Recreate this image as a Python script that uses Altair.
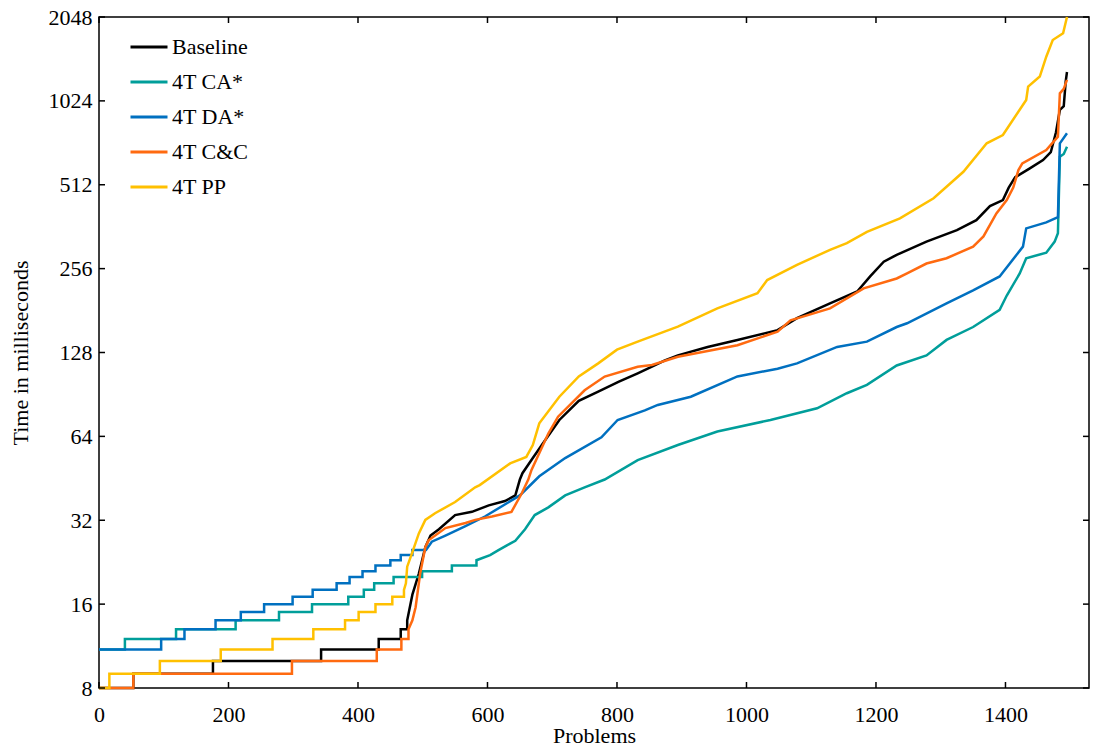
import altair as alt
import pandas as pd

series_names = ["Baseline", "4T CA*", "4T DA*", "4T C&C", "4T PP"]
series_colors = ["#000000", "#009E9A", "#0070C0", "#FF6A10", "#FFC000"]

base_x = [0, 53, 53, 176, 176, 343, 343, 432, 432, 466, 466, 476, 476, 484, 494, 504, 512, 525, 550, 576,
          602, 627, 643, 650, 654, 670, 689, 711, 741, 771, 803, 832, 854, 874, 894, 940, 986, 1048, 1078,
          1129, 1171, 1191, 1212, 1232, 1278, 1325, 1355, 1376, 1396, 1405, 1415, 1437, 1458, 1470, 1478,
          1484, 1490, 1493, 1495]
base_y = [8, 8, 9, 9, 10, 10, 11, 11, 12, 12, 13, 13, 14, 17.3, 20.6, 25.6, 28.2, 29.7, 33.4, 34.3,
          36.2, 37.5, 39.3, 44.8, 47.2, 53.5, 62, 73.3, 85.8, 92.6, 100.6, 107.8, 113.8, 120, 125, 134, 142,
          154, 170, 192, 212, 240, 271, 287, 320, 352, 382, 429, 451, 500, 545, 585, 628, 670, 790,
          950, 980, 1200, 1300]

ca_x = [0, 40, 40, 119, 119, 211, 211, 278, 278, 329, 329, 385, 385, 409, 409, 425, 425, 455, 455, 499,
        499, 545, 545, 583, 583, 604, 617, 630, 643, 658, 673, 694, 720, 750, 781, 832, 894, 955, 1037,
        1109, 1155, 1186, 1232, 1278, 1309, 1350, 1391, 1402, 1422, 1432, 1463, 1476, 1481, 1484, 1490, 1495]
ca_y = [11, 11, 12, 12, 13, 13, 14, 14, 15, 15, 16, 16, 17, 17, 18, 18, 19, 19, 20, 20,
        21, 21, 22, 22, 23, 24, 25, 26, 27, 29.7, 33.4, 35.6, 39.3, 42, 44.8, 52.6, 59.6, 66.6, 73.3,
        80.7, 91.4, 98, 115, 125, 142, 158, 182, 205, 246, 279, 292, 320, 343, 646, 660, 701]

da_x = [0, 96, 96, 132, 132, 180, 180, 219, 219, 255, 255, 299, 299, 330, 330, 367, 367, 387, 387, 407,
        407, 427, 427, 450, 450, 466, 466, 484, 484, 505, 514, 535, 566, 596, 650, 680, 720, 776, 801, 843,
        863, 914, 986, 1048, 1078, 1140, 1186, 1232, 1248, 1309, 1350, 1391, 1427, 1432, 1463, 1481, 1484,
        1495]
da_y = [11, 11, 12, 12, 13, 13, 14, 14, 15, 15, 16, 16, 17, 17, 18, 18, 19, 19, 20, 20,
        21, 21, 22, 22, 23, 23, 24, 24, 25, 25, 26.8, 28.2, 30.5, 33, 39.3, 46, 53.5, 63.5, 73.3, 79.3,
        83, 88.8, 105, 112, 117, 134, 140, 158, 163, 192, 214, 240, 307, 357, 375, 392, 721,
        783]

cc_x = [0, 53, 53, 298, 298, 429, 429, 467, 467, 478, 478, 484, 489, 496, 504, 509, 535, 566, 581, 607,
        637, 653, 663, 668, 694, 709, 750, 781, 832, 854, 894, 986, 1048, 1068, 1129, 1181, 1232, 1248,
        1278, 1309, 1350, 1366, 1386, 1402, 1412, 1420, 1426, 1463, 1481, 1484, 1490, 1495]
cc_y = [8, 8, 9, 9, 10, 10, 11, 11, 12, 12, 13, 14, 15.6, 20.6, 25.6, 27.1, 30, 31.3, 32.1, 33,
        34.3, 40, 44.8, 48.5, 65.5, 75.3, 93.7, 104.9, 113.8, 115.4, 123.6, 136, 152, 167, 184.4, 217.5, 236, 246,
        267, 279, 307, 334, 404, 451, 500, 578, 611, 682, 762, 1090, 1130, 1218]

pp_x = [0, 16, 16, 94, 94, 188, 188, 268, 268, 331, 331, 380, 380, 401, 401, 427, 427, 453, 453, 471,
        471, 474, 476, 484, 494, 504, 519, 550, 581, 588, 635, 660, 670, 680, 711, 741, 771, 800, 832, 894,
        955, 1017, 1032, 1078, 1129, 1155, 1186, 1237, 1289, 1335, 1371, 1396, 1432, 1435, 1453, 1463,
        1473, 1489, 1495]
pp_y = [8, 8, 9, 9, 10, 10, 11, 11, 12, 12, 13, 13, 14, 14, 15, 15, 16, 16, 17, 17,
        18, 19, 21.8, 24.6, 28.7, 32.1, 33.9, 37.2, 42, 42.8, 51.2, 54, 59.6, 71.3, 88.8, 105, 117, 131, 140, 158.4,
        184.4, 208.8, 233, 264, 299, 316, 347, 388, 458, 570, 721, 772, 1031, 1152, 1252, 1475,
        1694, 1790, 2048]

x_ticks = [0, 200, 400, 600, 800, 1000, 1200, 1400]
y_ticks = [8, 16, 32, 64, 128, 256, 512, 1024, 2048]

W, H = 990, 671
FONT = "Liberation Serif"

rows = []
for name, xs, ys in zip(series_names, [base_x, ca_x, da_x, cc_x, pp_x], [base_y, ca_y, da_y, cc_y, pp_y]):
    for i, (xv, yv) in enumerate(zip(xs, ys)):
        rows.append({"series": name, "x": xv, "y": yv, "i": i})
df = pd.DataFrame(rows)

xscale = alt.Scale(domain=[0, 1529], nice=False, zero=False)
yscale = alt.Scale(type="log", base=2, domain=[8, 2048], nice=False)

x_axis = alt.Axis(values=x_ticks, format="d", title="Problems", ticks=False, tickSize=0, domain=False,
                  grid=False, labelPadding=16, labelFlush=False, labelOverlap=False, titleY=37,
                  labelFont=FONT, labelFontSize=22, labelColor="black",
                  titleFont=FONT, titleFontSize=22, titleFontWeight="normal", titleColor="black")
y_axis = alt.Axis(values=y_ticks, format="d", title="Time in milliseconds", ticks=False, tickSize=0,
                  domain=False, grid=False, labelPadding=7, labelFlush=False, labelOverlap=False, titleX=-67,
                  labelFont=FONT, labelFontSize=22, labelColor="black",
                  titleFont=FONT, titleFontSize=22, titleFontWeight="normal", titleColor="black")

lines = alt.Chart(df).mark_line(strokeWidth=2.5, strokeJoin="miter", strokeCap="butt").encode(
    x=alt.X("x:Q", scale=xscale, axis=x_axis),
    y=alt.Y("y:Q", scale=yscale, axis=y_axis),
    color=alt.Color("series:N", scale=alt.Scale(domain=series_names, range=series_colors),
                    legend=alt.Legend(title=None, orient="none", legendX=30, legendY=10,
                                      symbolType="stroke", symbolSize=1369, symbolStrokeWidth=3,
                                      labelFont=FONT, labelFontSize=22, labelColor="black",
                                      labelOffset=3, rowPadding=4, padding=0)),
    order=alt.Order("i:Q"),
)

xt = pd.DataFrame({"x": x_ticks})
yt = pd.DataFrame({"y": y_ticks})

tick_b = alt.Chart(xt).mark_rule(color="black", strokeWidth=1.5).encode(
    x=alt.X("x:Q", scale=xscale, axis=x_axis), y=alt.value(H), y2=alt.value(H - 6))
tick_t = alt.Chart(xt).mark_rule(color="black", strokeWidth=1.5).encode(
    x=alt.X("x:Q", scale=xscale, axis=x_axis), y=alt.value(0), y2=alt.value(6))
tick_l = alt.Chart(yt).mark_rule(color="black", strokeWidth=1.5).encode(
    y=alt.Y("y:Q", scale=yscale, axis=y_axis), x=alt.value(0), x2=alt.value(6))
tick_r = alt.Chart(yt).mark_rule(color="black", strokeWidth=1.5).encode(
    y=alt.Y("y:Q", scale=yscale, axis=y_axis), x=alt.value(W), x2=alt.value(W - 6))

chart = alt.layer(lines, tick_b, tick_t, tick_l, tick_r).properties(
    width=W, height=H,
    autosize=alt.AutoSizeParams(type="none"),
    padding={"left": 91, "top": 9, "right": 1, "bottom": 58},
    background="white",
).configure_view(stroke="black", strokeWidth=1.5)

chart.save("out.html", embed_options={"renderer": "svg", "actions": False})
